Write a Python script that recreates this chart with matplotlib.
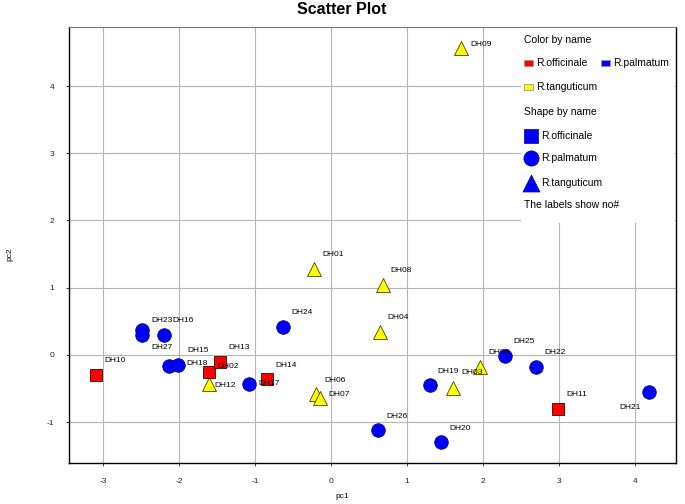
import matplotlib
matplotlib.use('Agg')
import matplotlib.pyplot as plt
from matplotlib.patches import Rectangle

plt.rcParams['font.family'] = ['Liberation Sans', 'DejaVu Sans']
plt.rcParams['axes.unicode_minus'] = False

# sample scores
names = ['DH01', 'DH02', 'DH03', 'DH04', 'DH05', 'DH06', 'DH07', 'DH08', 'DH09',
         'DH10', 'DH11', 'DH12', 'DH13', 'DH14', 'DH15', 'DH16', 'DH17', 'DH18',
         'DH19', 'DH20', 'DH21', 'DH22', 'DH23', 'DH24', 'DH25', 'DH26', 'DH27']
pc1 = [-0.22, -1.61, 1.61, 0.64, 1.96, -0.20, -0.14, 0.68, 1.71,
       -3.09, 2.99, -1.61, -1.46, -0.84, -2.14, -2.20, -1.08, -2.01,
       1.30, 1.45, 4.18, 2.70, -2.49, -0.63, 2.29, 0.62, -2.49]
pc2 = [1.28, -0.25, -0.50, 0.34, -0.18, -0.59, -0.64, 1.04, 4.57,
       -0.30, -0.80, -0.43, -0.10, -0.36, -0.16, 0.30, -0.44, -0.15,
       -0.45, -1.30, -0.55, -0.18, 0.37, 0.42, -0.01, -1.12, 0.30]
species = ['R.tanguticum', 'R.officinale', 'R.tanguticum', 'R.tanguticum', 'R.tanguticum',
           'R.tanguticum', 'R.tanguticum', 'R.tanguticum', 'R.tanguticum',
           'R.officinale', 'R.officinale', 'R.tanguticum', 'R.officinale', 'R.officinale',
           'R.palmatum', 'R.palmatum', 'R.palmatum', 'R.palmatum',
           'R.palmatum', 'R.palmatum', 'R.palmatum', 'R.palmatum', 'R.palmatum',
           'R.palmatum', 'R.palmatum', 'R.palmatum', 'R.palmatum']

species_names = ['R.officinale', 'R.palmatum', 'R.tanguticum']
colors = {'R.officinale': '#ff0000', 'R.palmatum': '#0000ff', 'R.tanguticum': '#ffff00'}
edges = {'R.officinale': '#400000', 'R.palmatum': '#00008b', 'R.tanguticum': '#404000'}
markers = {'R.officinale': 's', 'R.palmatum': 'o', 'R.tanguticum': '^'}
sizes = {'R.officinale': 78, 'R.palmatum': 95, 'R.tanguticum': 100}

# label offsets in pixels (default up-right)
default_off = (8, 14)
label_off = {'DH09': (9, 3), 'DH23': (9, 9), 'DH27': (9, -13), 'DH15': (19, 15),
             'DH18': (8, 1), 'DH02': (9, 5), 'DH12': (6, -2), 'DH17': (9, 1),
             'DH07': (8, 3), 'DH21': (-29, -16), 'DH03': (8, 16)}

fig = plt.figure(figsize=(6.85, 5.04), dpi=100)
ax = fig.add_axes([69/685, 41/504, 607/685, 436/504])

for sp in ['R.tanguticum', 'R.palmatum', 'R.officinale']:
    xs = [x for x, s in zip(pc1, species) if s == sp]
    ys = [y for y, s in zip(pc2, species) if s == sp]
    ax.scatter(xs, ys, s=sizes[sp], c=colors[sp], marker=markers[sp],
               edgecolors=edges[sp], linewidths=0.6, zorder=3)

for n, x, y in zip(names, pc1, pc2):
    ax.annotate(n, (x, y), xytext=label_off.get(n, default_off), textcoords='offset pixels',
                fontsize=6, ha='left', va='center', zorder=4)

ax.set_xlim(-3.45, 4.54)
ax.set_ylim(-1.61, 4.88)
ax.set_xticks(range(-3, 5))
ax.set_yticks(range(-1, 5))
ax.grid(True, color='#b4b4b4', linewidth=0.8)
ax.set_axisbelow(True)
ax.tick_params(labelsize=6, length=2.5, width=0.6, colors='#222222', pad=8)
for side in ['left', 'bottom', 'right']:
    ax.spines[side].set_color('black')
    ax.spines[side].set_linewidth(1.0)
ax.spines['top'].set_color('#777777')

ax.set_xlabel('pc1', fontsize=6)
ax.set_ylabel('pc2', fontsize=6)
ax.xaxis.set_label_coords(0.45, -0.069)
ax.yaxis.set_label_coords(-0.092, 0.48)

fig.text(342/685, 1 - 10/504, 'Scatter Plot', fontsize=11.5, fontweight='bold',
         ha='center', va='center')

# legend panel
leg = fig.add_axes([521/685, (504-223)/504, 154/685, 195/504])
leg.set_xlim(0, 154)
leg.set_ylim(195, 0)
leg.set_xticks([])
leg.set_yticks([])
for s in leg.spines.values():
    s.set_visible(False)
leg.set_facecolor('white')

fs = 7.5
leg.text(3, 12, 'Color by name', fontsize=fs, va='center')
sw_pos = [(3, 35), (80, 35), (3, 59)]
for sp, (px, py) in zip(species_names, sw_pos):
    leg.add_patch(Rectangle((px, py - 3), 9, 6, facecolor=colors[sp], edgecolor='#999999',
                            linewidth=0.6))
    leg.text(px + 12, py, sp, fontsize=fs, va='center')
leg.text(3, 84, 'Shape by name', fontsize=fs, va='center')
shape_y = [108, 130, 155]
shape_s = [110, 120, 150]
for sp, py, ss in zip(species_names, shape_y, shape_s):
    leg.scatter([10], [py], s=ss, marker=markers[sp], c='#0000ff', edgecolors='#00008b',
                linewidths=0.5, clip_on=False)
    leg.text(20, py, sp, fontsize=fs, va='center')
leg.text(3, 177, 'The labels show no#', fontsize=fs, va='center')

fig.savefig('out.png', dpi=100)
